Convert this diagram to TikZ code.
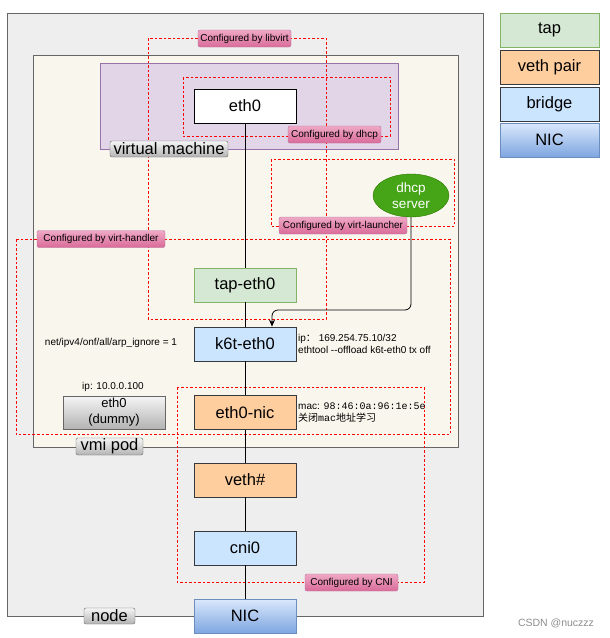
\documentclass[tikz,border=0pt]{standalone}
\usepackage{fontspec}
\setmainfont{Liberation Sans}
\newfontfamily\cjk{Noto Sans CJK SC}
\newfontfamily\mono{Liberation Mono}
\usetikzlibrary{arrows.meta,shapes.geometric}
\definecolor{nodefill}{HTML}{EEEEEE}
\definecolor{podfill}{HTML}{F9F7ED}
\definecolor{vmfill}{HTML}{E1D5E7}
\definecolor{vmline}{HTML}{9673A6}
\definecolor{frame}{HTML}{666666}
\definecolor{tapfill}{HTML}{D5E8D4}
\definecolor{tapline}{HTML}{82B366}
\definecolor{vethfill}{HTML}{FFCE9F}
\definecolor{brfill}{HTML}{CCE5FF}
\definecolor{devline}{HTML}{36393D}
\definecolor{nictop}{HTML}{DAE8FC}
\definecolor{nicbot}{HTML}{7EA6E0}
\definecolor{nicline}{HTML}{6C8EBF}
\definecolor{pinktop}{HTML}{EFA8C6}
\definecolor{pinkbot}{HTML}{D96B98}
\definecolor{pinkline}{HTML}{B5739D}
\definecolor{graytop}{HTML}{F5F5F5}
\definecolor{graybot}{HTML}{B3B3B3}
\definecolor{dhcpfill}{HTML}{45A516}
\definecolor{dhcpline}{HTML}{2D7600}
\tikzset{
  dev/.style={draw=devline, line width=0.8pt, minimum width=102pt, minimum height=34pt, inner sep=0pt, font=\fontsize{16.5}{18}\selectfont},
  tapdev/.style={dev, draw=tapline, fill=tapfill},
  vethdev/.style={dev, fill=vethfill},
  brdev/.style={dev, fill=brfill},
  nicdev/.style={dev, draw=nicline, top color=nictop, bottom color=nicbot},
  cfg/.style={draw=pinkline, top color=pinktop, bottom color=pinkbot, rounded corners=2pt, minimum height=17pt, inner sep=0pt, font=\fontsize{10}{12}\selectfont},
  glabel/.style={draw=frame, top color=graytop, bottom color=graybot, rounded corners=2pt, minimum height=16pt, inner sep=0pt, font=\fontsize{16.5}{18}\selectfont},
  cfgbox/.style={draw=red, dash pattern=on 2.5pt off 2pt, line width=0.8pt},
  ann/.style={font=\fontsize{10}{12}\selectfont, inner sep=0pt, align=left},
  link/.style={draw=black, line width=0.8pt}
}
\begin{document}
\begin{tikzpicture}[x=1pt,y=-1pt]
\useasboundingbox (0,0) rectangle (610,638);
% containers
\draw[draw=frame, fill=nodefill, line width=0.8pt] (7,13) rectangle (483,616);
\draw[draw=frame, fill=podfill, line width=0.8pt] (33,55) rectangle (458,447);
\draw[draw=vmline, fill=vmfill, line width=0.8pt] (100,63) rectangle (398,149);
% dashed config regions
\draw[cfgbox] (148,38) rectangle (326,319);
\draw[cfgbox] (183,77) rectangle (390,136);
\draw[cfgbox] (271,159) rectangle (454,226);
\draw[cfgbox] (16,239) rectangle (450,434);
\draw[cfgbox] (177,387) rectangle (424,582);
% devices
\node[dev, draw=black, fill=white] (eth0) at (245,106) {eth0};
\node[tapdev] (tap) at (245,285) {tap-eth0};
\node[brdev] (k6t) at (245,344) {k6t-eth0};
\node[vethdev] (nic0) at (245,412.5) {eth0-nic};
\node[vethdev] (veth) at (245,480) {veth\#};
\node[brdev] (cni) at (245,548) {cni0};
\node[nicdev] (nic) at (245,616) {NIC};
\node[dev, draw=frame, top color=graytop, bottom color=graybot, minimum height=33pt, align=center, font=\fontsize{13}{16}\selectfont] (dummy) at (114,412.5) {eth0\\(dummy)};
\node[ellipse, draw=dhcpline, fill=dhcpfill, minimum width=76pt, minimum height=43pt, inner sep=0pt, align=center, text=white, font=\fontsize{13.5}{16}\selectfont] (dhcp) at (411,195.5) {dhcp\\server};
% connectors
\draw[link] (eth0) -- (tap);
\draw[link] (tap) -- (k6t);
\draw[link] (k6t) -- (nic0);
\draw[link] (nic0) -- (veth);
\draw[link] (veth) -- (cni);
\draw[link] (cni) -- (nic);
\coordinate (bend) at (272,310);
\draw[link, rounded corners=6pt, -{Stealth[length=7pt,width=6pt]}] (dhcp.south) |- (bend) -- (bend |- k6t.north);
% config labels
\node[cfg, minimum width=93pt] (lbvirt) at (244.5,38.5) {Configured by libvirt};
\node[cfg, minimum width=93pt] (ldhcp) at (334.5,134.5) {Configured by dhcp};
\node[cfg, minimum width=128pt] (llaunch) at (343,225.5) {Configured by virt-launcher};
\node[cfg, minimum width=128pt] (lhandler) at (101,239) {Configured by virt-handler};
\node[cfg, minimum width=93pt] (lcni) at (351.5,582.5) {Configured by CNI};
% container labels
\node[glabel, minimum width=118pt] (lvm) at (169,149) {virtual machine};
\node[glabel, minimum width=67pt, minimum height=17pt] (lpod) at (109.5,446.5) {vmi pod};
\node[glabel, minimum width=51pt] (lnode) at (109.5,616) {node};
% annotations
\node[ann, anchor=center] (arp) at (111,343) {net/ipv4/onf/all/arp\_ignore = 1};
\node[ann, anchor=center] (dip) at (113,387) {ip: 10.0.0.100};
\node[ann, anchor=west] (kip) at (298,344) {ip{\cjk ：} 169.254.75.10/32\\ethtool -{}-offload k6t-eth0 tx off};
\node[ann, anchor=west] (mac) at (298,413) {mac: {\mono 98:46:0a:96:1e:5e}\\{\cjk 关闭}{\mono mac}{\cjk 地址学习}};
% legend
\node[tapdev, minimum width=99pt] (gtap) at (549.5,30) {tap};
\node[vethdev, minimum width=99pt] (gveth) at (549.5,67) {veth pair};
\node[brdev, minimum width=99pt] (gbr) at (549.5,104) {bridge};
\node[nicdev, minimum width=99pt] (gnic) at (549.5,140) {NIC};
% watermark
\node[font=\fontsize{10.5}{12}\selectfont, text=black!45, inner sep=0pt] (wm) at (556,623) {CSDN @nuczzz};
\end{tikzpicture}
\end{document}
